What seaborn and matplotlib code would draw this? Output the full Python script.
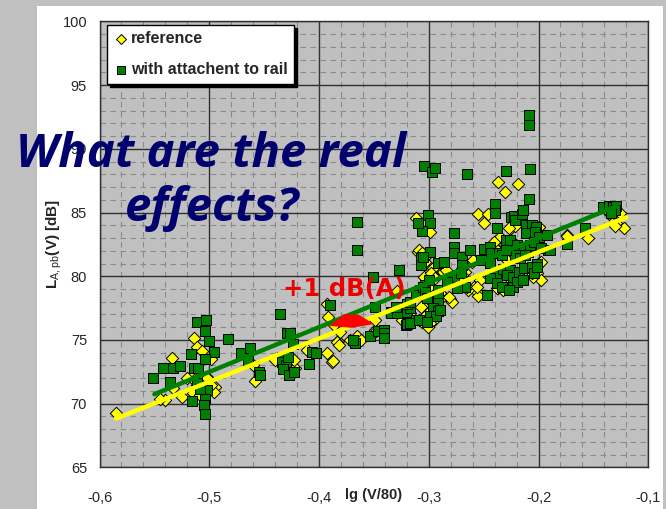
import matplotlib
matplotlib.use("Agg")
import matplotlib.pyplot as plt
import matplotlib.ticker as mticker
from matplotlib.patches import Rectangle, Polygon
import seaborn as sns
import pandas as pd

# ---------------- data ----------------
reference = [
    (-0.585, 69.30), (-0.534, 73.57), (-0.540, 70.32), (-0.533, 71.19), (-0.525, 70.53), (-0.514, 75.12),
    (-0.511, 74.46), (-0.507, 74.12), (-0.498, 73.54), (-0.516, 72.15), (-0.514, 71.84), (-0.511, 71.45),
    (-0.508, 70.79), (-0.515, 70.84), (-0.502, 72.10), (-0.495, 71.31), (-0.496, 70.92), (-0.508, 72.05),
    (-0.502, 72.05), (-0.508, 70.66), (-0.498, 71.50), (-0.458, 71.76), (-0.460, 73.02), (-0.440, 73.46),
    (-0.426, 72.88), (-0.422, 72.76), (-0.423, 73.41), (-0.411, 74.20), (-0.393, 73.94), (-0.393, 77.86),
    (-0.392, 76.81), (-0.388, 73.28), (-0.545, 70.40), (-0.520, 72.00),
    (-0.383, 74.88), (-0.372, 74.98), (-0.365, 75.30), (-0.362, 74.98), (-0.349, 75.77), (-0.323, 77.34),
    (-0.324, 76.55), (-0.310, 81.92), (-0.381, 76.29), (-0.386, 76.16), (-0.381, 75.63), (-0.384, 74.85),
    (-0.382, 74.59), (-0.387, 73.35), (-0.348, 75.69), (-0.349, 76.55), (-0.320, 77.47), (-0.329, 78.85),
    (-0.309, 76.55), (-0.306, 76.42), (-0.300, 77.20), (-0.304, 77.60),
    (-0.312, 84.59), (-0.299, 83.49), (-0.309, 82.05), (-0.303, 81.13), (-0.306, 81.79), (-0.300, 81.79),
    (-0.293, 80.48), (-0.287, 80.35), (-0.297, 80.22), (-0.304, 79.95), (-0.306, 78.65), (-0.307, 77.60),
    (-0.304, 76.81), (-0.298, 76.42), (-0.295, 76.55), (-0.298, 77.34), (-0.300, 79.17), (-0.301, 78.38),
    (-0.299, 76.34), (-0.297, 77.08), (-0.301, 76.03), (-0.323, 77.20), (-0.320, 76.42), (-0.317, 77.08),
    (-0.255, 84.88), (-0.250, 84.20), (-0.246, 84.85), (-0.237, 87.37), (-0.219, 87.24), (-0.231, 86.58),
    (-0.261, 81.13), (-0.268, 80.87), (-0.260, 81.27), (-0.253, 79.69), (-0.259, 79.17), (-0.256, 78.78),
    (-0.264, 78.91), (-0.255, 78.44), (-0.281, 78.18), (-0.279, 77.99), (-0.287, 78.44), (-0.267, 80.35),
    (-0.270, 80.09), (-0.284, 80.48), (-0.290, 78.65), (-0.282, 78.38), (-0.271, 79.44), (-0.265, 79.17),
    (-0.296, 80.61), (-0.298, 80.22), (-0.294, 79.83),
    (-0.239, 82.18), (-0.236, 81.92), (-0.224, 82.31), (-0.223, 82.70), (-0.229, 81.27), (-0.237, 79.04),
    (-0.232, 78.91), (-0.228, 79.30), (-0.200, 81.01), (-0.201, 80.22), (-0.198, 79.69), (-0.205, 79.95),
    (-0.225, 83.82), (-0.221, 83.93), (-0.200, 83.88), (-0.227, 83.76), (-0.235, 83.10), (-0.238, 82.05),
    (-0.241, 82.70), (-0.256, 79.17), (-0.238, 79.04), (-0.222, 79.56), (-0.220, 79.95), (-0.206, 80.22),
    (-0.201, 80.79), (-0.198, 81.13),
    (-0.174, 83.23), (-0.155, 82.97), (-0.135, 84.88), (-0.133, 84.67), (-0.129, 84.15), (-0.122, 83.82),
    (-0.126, 84.93), (-0.135, 84.98), (-0.130, 83.93), (-0.174, 83.15),
]

rail = [
    (-0.551, 72.00), (-0.542, 72.76), (-0.533, 72.76), (-0.527, 72.92), (-0.536, 71.66), (-0.517, 73.88),
    (-0.514, 72.76), (-0.510, 72.76), (-0.511, 76.37), (-0.503, 76.53), (-0.504, 75.71), (-0.500, 74.90),
    (-0.483, 75.04), (-0.496, 74.04), (-0.504, 73.51), (-0.511, 71.63), (-0.502, 71.05), (-0.508, 71.11),
    (-0.516, 70.21), (-0.504, 70.40), (-0.505, 69.90), (-0.504, 69.22), (-0.471, 73.98), (-0.463, 74.35),
    (-0.465, 73.31), (-0.455, 72.52), (-0.454, 72.26),
    (-0.436, 77.02), (-0.429, 75.51), (-0.426, 75.51), (-0.424, 74.67), (-0.434, 73.67), (-0.434, 73.28),
    (-0.430, 73.02), (-0.428, 73.67), (-0.433, 72.68), (-0.427, 72.21), (-0.423, 72.49), (-0.409, 73.10),
    (-0.406, 74.06), (-0.403, 73.98), (-0.390, 77.73),
    (-0.365, 82.05), (-0.365, 84.27), (-0.351, 79.95), (-0.327, 80.48), (-0.354, 75.30), (-0.346, 75.69),
    (-0.341, 75.77), (-0.341, 75.51), (-0.341, 75.12), (-0.367, 74.72), (-0.369, 74.98), (-0.349, 77.55),
    (-0.334, 77.20), (-0.334, 77.08), (-0.323, 77.08), (-0.321, 76.16), (-0.320, 77.20), (-0.317, 77.47),
    (-0.320, 77.86), (-0.317, 77.99), (-0.312, 76.55), (-0.329, 77.13), (-0.330, 77.60), (-0.320, 76.24),
    (-0.312, 76.60), (-0.308, 78.91), (-0.303, 79.30), (-0.312, 78.52), (-0.300, 79.70),
    (-0.304, 88.65), (-0.297, 88.20), (-0.294, 88.47), (-0.301, 84.82), (-0.299, 84.15), (-0.306, 83.57),
    (-0.310, 84.15), (-0.299, 81.92), (-0.307, 81.47), (-0.307, 80.87), (-0.305, 81.53), (-0.292, 81.05),
    (-0.286, 81.13),
    (-0.305, 79.17), (-0.303, 78.78), (-0.302, 78.30), (-0.292, 78.95), (-0.292, 78.47), (-0.292, 77.90),
    (-0.296, 77.50), (-0.292, 77.30), (-0.299, 76.87), (-0.293, 76.87), (-0.317, 76.29), (-0.309, 76.55),
    (-0.302, 76.42), (-0.290, 77.34),
    (-0.277, 83.36), (-0.277, 82.31), (-0.277, 81.84), (-0.270, 81.53), (-0.262, 82.05), (-0.265, 88.02),
    (-0.271, 79.17), (-0.267, 79.17), (-0.274, 79.04), (-0.277, 79.95), (-0.283, 79.56), (-0.270, 80.87),
    (-0.271, 80.22), (-0.250, 82.10), (-0.247, 78.55), (-0.252, 81.27),
    (-0.240, 85.66), (-0.240, 84.93), (-0.230, 88.23), (-0.208, 88.41), (-0.209, 92.65), (-0.209, 91.87),
    (-0.209, 86.06), (-0.238, 83.75), (-0.225, 84.67), (-0.222, 84.72), (-0.221, 84.41), (-0.215, 84.88),
    (-0.214, 85.19), (-0.211, 84.01), (-0.206, 84.01), (-0.202, 83.88), (-0.211, 83.36), (-0.203, 83.49),
    (-0.200, 83.10), (-0.192, 83.23), (-0.191, 82.05), (-0.244, 81.01), (-0.230, 82.84), (-0.226, 82.84),
    (-0.220, 82.44), (-0.217, 81.79), (-0.210, 81.92), (-0.202, 82.31), (-0.213, 82.31), (-0.208, 82.44),
    (-0.204, 82.70), (-0.198, 82.18), (-0.239, 80.22), (-0.232, 80.53), (-0.226, 80.48), (-0.229, 80.09),
    (-0.223, 79.95), (-0.218, 80.35), (-0.213, 80.61), (-0.206, 80.74), (-0.204, 80.22), (-0.244, 79.83),
    (-0.238, 79.48), (-0.233, 79.12), (-0.223, 79.17), (-0.220, 79.56), (-0.214, 79.69), (-0.227, 78.91),
    (-0.221, 81.66), (-0.217, 81.40), (-0.212, 81.66), (-0.201, 80.95), (-0.201, 80.74), (-0.244, 82.26),
    (-0.243, 81.79), (-0.236, 81.79), (-0.233, 81.66), (-0.230, 82.05),
    (-0.141, 85.41), (-0.136, 85.51), (-0.132, 85.41), (-0.129, 85.51), (-0.130, 85.19), (-0.134, 84.93),
    (-0.158, 83.82), (-0.174, 82.50), (-0.190, 82.05),
]

# linear trend lines (end points)
ref_trend_x = [-0.585, -0.120]
ref_trend_y = [68.83, 84.62]
rail_trend_x = [-0.550, -0.128]
rail_trend_y = [70.74, 85.53]

series_labels = ["reference", "with attachent to rail"]
x_ticks = [-0.6, -0.5, -0.4, -0.3, -0.2, -0.1]
y_ticks = [65, 70, 75, 80, 85, 90, 95, 100]

ref_df = pd.DataFrame(reference, columns=["x", "y"])
rail_df = pd.DataFrame(rail, columns=["x", "y"])

# ---------------- style ----------------
sns.set_style("white")
plt.rcParams["font.family"] = ["Liberation Sans", "DejaVu Sans"]
plt.rcParams["mathtext.fontset"] = "custom"
plt.rcParams["mathtext.rm"] = "Liberation Sans"
plt.rcParams["mathtext.bf"] = "Liberation Sans:bold"

GRAY = "#c0c0c0"
fig = plt.figure(figsize=(6.66, 5.09), dpi=100, facecolor=GRAY)
# white chart area
fig.patches.append(Rectangle((0.0556, 0.0), 0.94, 0.988, transform=fig.transFigure,
                             facecolor="white", edgecolor="none", zorder=-10))

ax = fig.add_axes([0.1494, 0.0819, 0.8240, 0.8759])
ax.set_zorder(1)
ax.set_facecolor(GRAY)

sns.scatterplot(data=ref_df, x="x", y="y", ax=ax, marker="D", s=40, color="#ffff00",
                edgecolor="black", linewidth=0.7, zorder=3, label=series_labels[0])
sns.scatterplot(data=rail_df, x="x", y="y", ax=ax, marker="s", s=44, color="#008000",
                edgecolor="black", linewidth=0.7, zorder=3, label=series_labels[1])

sns.lineplot(x=ref_trend_x, y=ref_trend_y, ax=ax, color="#ffff00", linewidth=3.2, zorder=4,
             legend=False)
sns.lineplot(x=rail_trend_x, y=rail_trend_y, ax=ax, color="#008000", linewidth=3.2, zorder=4,
             legend=False)

ax.set_xlim(-0.6, -0.1)
ax.set_ylim(65, 100)
ax.set_xticks(x_ticks)
ax.set_yticks(y_ticks)
ax.xaxis.set_minor_locator(mticker.MultipleLocator(0.02))
ax.yaxis.set_minor_locator(mticker.MultipleLocator(1))
fmt = mticker.FuncFormatter(lambda v, p: ("%g" % round(v, 2)).replace(".", ","))
ax.xaxis.set_major_formatter(fmt)
ax.yaxis.set_major_formatter(fmt)

ax.grid(which="minor", color="#8a8a8a", linestyle=(0, (5, 4)), linewidth=0.8, zorder=1)
ax.grid(which="major", color="#303030", linestyle="-", linewidth=1.0, zorder=1)
ax.set_axisbelow(True)
for s in ax.spines.values():
    s.set_color("#303030")
    s.set_linewidth(1.0)

ax.tick_params(axis="both", which="major", direction="out", length=5, width=1,
               color="#303030", labelsize=10.5, pad=4)
ax.tick_params(axis="x", pad=12)
ax.tick_params(which="minor", length=0)

ax.set_xlabel("lg (V/80)", fontsize=10.5, fontweight="bold")
ax.xaxis.set_label_coords(0.5, -0.061)
ax.xaxis.label.set_va("center")
ax.set_ylabel(r"L$_{\mathrm{A,pb}}$(V) [dB]", fontsize=11, fontweight="bold", labelpad=-1)

leg = ax.legend(loc="upper left", bbox_to_anchor=(0.014, 0.992), frameon=True, fancybox=False,
                edgecolor="black", framealpha=1, fontsize=11.5, labelspacing=1.0,
                borderpad=0.4, borderaxespad=0.0, handletextpad=0.2, handlelength=0.9,
                markerscale=0.8, shadow={"color": "black", "alpha": 1.0})
for t in leg.get_texts():
    t.set_fontweight("bold")
leg.get_frame().set_linewidth(1.0)
leg.set_zorder(6)

# "+1 dB(A)" annotation and red arrow
ax.text(-0.3768, 79.0, "+1 dB(A)", color="#ee0000", fontsize=17.5, fontweight="bold",
        family="DejaVu Sans", ha="center", va="center", zorder=6)
ax.add_patch(Polygon([(-0.391, 76.10), (-0.377, 77.00), (-0.364, 77.00), (-0.350, 76.25),
                      (-0.370, 75.95)], closed=True, facecolor="#ff0000", edgecolor="none",
                     zorder=5))

# overlay question
fig.text(211 / 666, 1 - 154 / 509, "What are the real", color="#00006e", fontsize=34,
         fontweight="bold", style="italic", family="Open Sans", ha="center", va="center",
         zorder=10)
fig.text(212 / 666, 1 - 208 / 509, "effects?", color="#00006e", fontsize=34,
         fontweight="bold", style="italic", family="Open Sans", ha="center", va="center",
         zorder=10)

fig.savefig("out.png", dpi=100, facecolor=GRAY)
